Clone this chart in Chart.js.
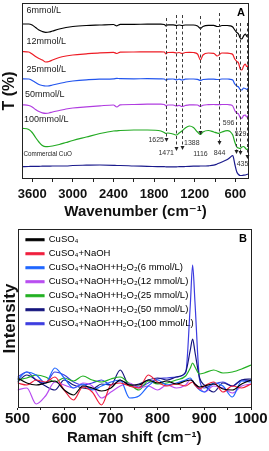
<!DOCTYPE html>
<html><head><meta charset="utf-8">
<script src="https://cdn.jsdelivr.net/npm/chart.js@4.4.1/dist/chart.umd.min.js"></script>
<style>
html,body{margin:0;padding:0;background:#fff;}
#wrap{position:relative;width:269px;height:451px;overflow:hidden;background:#fff;}
canvas{position:absolute;left:0;}
#ca{top:0;} #cb{top:222px;}
</style></head><body>
<div id="wrap"><canvas id="ca" width="269" height="222"></canvas><canvas id="cb" width="269" height="229"></canvas></div>
<script>
const FONT = "'Liberation Sans', Arial, 'DejaVu Sans', sans-serif";

// ---------- Panel A : FTIR ----------
const wavenumbers = [3750,3650,3600,3550,3500,3450,3400,3350,3300,3200,3100,3000,2800,2600,2400,2350,2300,2100,1900,1700,1650,1625,1600,1520,1471,1430,1388,1340,1280,1220,1160,1116,1080,1000,920,870,844,800,720,680,640,610,580,555,529,505,480,455,435,415,400];
const ftir6 = [155,155,154,151.5,149,147.5,146.7,147,148,150,151.5,152.5,153.5,154,154.5,153.2,154.6,154.7,154.8,154.8,154.5,153,154.2,154.2,153.5,154,153.5,154,154,154,153,150.5,152.5,153.7,153.7,152.5,152.5,153.5,153.5,153.2,152,149,146.5,145,141,140,143,145,143,142,146];
const ftir12 = [127.5,127,125,122.5,120.5,119,117,117.5,119,121.5,123,124,125.2,126.2,126.7,125.5,126.8,127,127.2,127.2,127,125,126.5,126.7,126,126.5,125.5,126.5,126.7,126.5,125,119,124,126,125.7,123,124,126,125.8,125.5,124.5,120,117.5,116,110,109,113,115,112.5,113,116];
const ftir25 = [100.2,100,98.5,96.5,94.5,93.5,93,93.2,94,95.5,97,98,99.2,99.8,100.2,100.7,100.3,100.2,100.3,100.2,100,98.8,99.8,100,99.2,99.8,99,99.8,100,100,99.7,98.5,99.5,99.8,99.8,99.5,99.5,100,100,99.7,99,95,93,92,89.5,89,91,90.5,89.7,90.5,92];
const ftir50 = [74.2,73.5,72,69.5,67.5,66.2,65.7,66,67,68.5,70,71,72.2,73.2,74,72,74.2,74.5,74.8,74.8,74.5,73,74,74,73,73.7,72.5,73.5,74.2,74.2,74,72.5,73.7,74.3,74.5,74.3,74.3,74.5,74.5,74.2,73,68.5,66,65,61.5,60.7,63.5,64,62,63,65.5];
const ftir100 = [50.7,49.5,46.5,41.5,37,33.5,32.3,32.5,33,34.5,36.5,38.5,42,45.5,48,48.2,48.5,49,49,48,46.5,45.5,46,45,44,46,48,51,53,51.5,47,44.5,47,48.5,47,46,45.7,47,48.3,47.5,44,37,32,31,30.5,32,32.5,31,29.7,30,31];
const ftirCuO = [12.3,12.5,12.7,12.7,12.7,12.8,12.8,12.9,13,13,13,13.5,13.8,14,13.7,13.5,13.5,13,12.7,12.3,12.3,12.2,12.2,12.2,12.2,12.3,12.3,12.5,12.7,12.8,12.8,13,13,13.2,13.8,15,15.7,17,19.5,21.5,23.5,15,7,4.5,3.5,3.5,3.8,4,4.5,4.8,5];
const ftirLabels = ['6mmol/L','12mmol/L','25mmol/L','50mmol/L','100mmol/L','Commercial CuO'];
const ftirTickValues = [600,900,1200,1500,1800,2100,2400,2700,3000,3300,3600];
const ftirTickLabels = ['600','','1200','','1800','','2400','','3000','','3600'];
const peakPositions = [1625,1471,1388,1116,844,596,529,435];
const peakLabels = ['1625','1471','1388','1116','844','596','529','435'];

// ---------- Panel B : Raman ----------
const ramanShift = [500,520,540,560,580,600,620,640,660,680,700,720,740,760,780,800,820,840,860,870,875,880,890,900,920,940,960,980,1000];
const ramanCuSO4 = [30,25,23,25,27,18,13,22,20,17,20,28,23,23,28,25,27,24,27,28,27,24,21,22,24,19,18,24,28];
const ramanNaOH = [25,23,28,26,31,18,8,21,16,3,23,25,22,20,33,26,22,24,22,25,26,23,19,22,26,16,22,20,24];
const raman6 = [28,36,33,25,40,30,20,24,18,22,26,28,10,12,22,28,23,25,28,30,27,23,18,16,25,22,11,27,26];
const raman12 = [18,20,4,12,26,23,20,25,22,10,16,22,25,20,22,18,23,20,23,28,27,24,20,16,22,20,15,22,24];
const raman25 = [28,30,33,31,26,30,27,32,28,26,29,31,24,18,27,24,25,28,32,40,45,41,34,35,38,35,36,39,43];
const raman50 = [26,33,28,22,18,28,23,20,19,24,23,38,22,24,28,30,28,31,36,58,69,56,30,23,16,25,22,28,29];
const raman100 = [31,36,28,25,36,33,26,23,25,28,23,27,24,21,25,29,30,31,35,103,143,106,28,20,24,26,22,28,27];
const ramanLabels = ['CuSO\u2084','CuSO\u2084+NaOH','CuSO\u2084+NaOH+H\u2082O\u2082(6 mmol/L)','CuSO\u2084+NaOH+H\u2082O\u2082(12 mmol/L)','CuSO\u2084+NaOH+H\u2082O\u2082(25 mmol/L)','CuSO\u2084+NaOH+H\u2082O\u2082(50 mmol/L)','CuSO\u2084+NaOH+H\u2082O\u2082(100 mmol/L)'];
const ramanTickValues = [500,550,600,650,700,750,800,850,900,950,1000];
const ramanTickLabels = ['500','','600','','700','','800','','900','','1000'];

// ---------- shared plugins ----------
const framePlugin = {
  id: 'frame',
  afterDraw(chart) {
    const {ctx, chartArea: a} = chart;
    ctx.save();
    ctx.strokeStyle = '#222';
    ctx.lineWidth = 1;
    ctx.strokeRect(Math.round(a.left) + 0.5, Math.round(a.top) + 0.5, Math.round(a.right - a.left) - 1, Math.round(a.bottom - a.top) - 1);
    ctx.restore();
  }
};

const panelLetter = (letter) => ({
  id: 'letter' + letter,
  afterDraw(chart) {
    const {ctx, chartArea: a} = chart;
    ctx.save();
    ctx.font = 'bold 11px ' + FONT;
    ctx.fillStyle = '#000';
    ctx.textAlign = 'center';
    ctx.textBaseline = 'middle';
    ctx.fillText(letter, a.right - 8, a.top + 9.5);
    ctx.restore();
  }
});

// keep the legend inside the plot area, near its top-left corner
const legendInsidePlugin = {
  id: 'legendInside',
  afterLayout(chart) {
    const lg = chart.legend;
    if (!lg) return;
    const a = chart.chartArea;
    const w = lg.width, h = lg.height;
    lg.left = a.left + 4;
    lg.right = lg.left + w;
    lg.top = a.top + 1.5;
    lg.bottom = lg.top + h;
  }
};

// curve labels for panel A (placed above each curve)
const curveLabelPlugin = {
  id: 'curveLabels',
  afterDatasetsDraw(chart) {
    const {ctx, chartArea: a} = chart;
    const place = [[4.5, 7.3, 9], [4.5, 39, 9], [4.5, 67, 9], [3, 92, 9], [2, 117, 9], [1.5, 151, 6.3]];
    ctx.save();
    ctx.fillStyle = '#1a1a1a';
    ctx.textAlign = 'left';
    ctx.textBaseline = 'middle';
    chart.data.datasets.forEach((ds, i) => {
      const p = place[i];
      ctx.font = p[2] + 'px ' + FONT;
      ctx.fillText(ds.label, a.left + p[0], a.top + p[1]);
    });
    ctx.restore();
  }
};

// dashed peak markers with arrows for panel A
const peakPlugin = {
  id: 'peaks',
  afterDatasetsDraw(chart) {
    const {ctx, scales: {x, y}} = chart;
    // [top, tip] in y-axis units, label offset (dx, dy px) and alignment
    const style = [
      [161, 37, -2.5, -2, 'right'],
      [164, 28, -2.5, 2, 'right'],
      [164, 29, 1.5, -7, 'left'],
      [163, 44, 0, 19, 'center'],
      [166, 34, 0, 8, 'center'],
      [156, 25, -2, -31, 'right'],
      [156, 24, 0, -21, 'center'],
      [156, 20, -5, 5, 'center']
    ];
    ctx.save();
    peakPositions.forEach((wn, i) => {
      const s = style[i];
      const px = Math.round(x.getPixelForValue(wn)) + 0.5;
      const yTop = y.getPixelForValue(s[0]);
      const yTip = y.getPixelForValue(s[1]);
      ctx.strokeStyle = '#3a3a3a';
      ctx.lineWidth = 1;
      ctx.setLineDash([3, 2.5]);
      ctx.beginPath();
      ctx.moveTo(px, yTop);
      ctx.lineTo(px, yTip - 3.5);
      ctx.stroke();
      ctx.setLineDash([]);
      ctx.fillStyle = '#222';
      ctx.beginPath();
      ctx.moveTo(px - 2, yTip - 4);
      ctx.lineTo(px + 2, yTip - 4);
      ctx.lineTo(px, yTip);
      ctx.closePath();
      ctx.fill();
      ctx.font = '7px ' + FONT;
      ctx.fillStyle = '#333';
      ctx.textAlign = s[4];
      ctx.textBaseline = 'middle';
      ctx.fillText(peakLabels[i], px + s[2], yTip + s[3]);
    });
    ctx.restore();
  }
};

// ---------- Chart A ----------
const ftirSeries = [ftir6, ftir12, ftir25, ftir50, ftir100, ftirCuO];
const ftirColors = ['#000000', '#ee1c25', '#2255ee', '#b03ce0', '#22aa22', '#1a1a8c'];

new Chart(document.getElementById('ca'), {
  type: 'line',
  data: {
    datasets: ftirSeries.map((vals, i) => ({
      label: ftirLabels[i],
      data: wavenumbers.map((w, j) => ({x: w, y: vals[j]})),
      borderColor: ftirColors[i],
      borderWidth: 1.2,
      pointRadius: 0,
      cubicInterpolationMode: 'monotone',
      fill: false
    }))
  },
  options: {
    responsive: false,
    devicePixelRatio: 1,
    animation: false,
    layout: {padding: {top: 3, right: 20, left: 0, bottom: 0}},
    plugins: {legend: {display: false}, tooltip: {enabled: false}},
    scales: {
      x: {
        type: 'linear', reverse: true, min: 400, max: 3750,
        afterBuildTicks: (s) => { s.ticks = ftirTickValues.map(v => ({value: v})); },
        afterFit: (s) => { s.height = 43; },
        ticks: {
          autoSkip: false, maxRotation: 0, padding: 5, color: '#111',
          font: {family: FONT, size: 13, weight: 'bold'},
          callback: (v) => ftirTickLabels[ftirTickValues.indexOf(v)]
        },
        grid: {drawOnChartArea: false, drawTicks: true, tickLength: 3, color: '#222'},
        border: {display: false},
        title: {display: true, text: 'Wavenumber (cm\u207B\u00B9)', color: '#111',
          font: {family: FONT, size: 15, weight: 'bold'}, padding: {top: 0, bottom: 1}}
      },
      y: {
        min: 0, max: 176,
        afterFit: (s) => { s.width = 22; },
        ticks: {display: false},
        grid: {display: false},
        border: {display: false},
        title: {display: true, text: 'T (%)', color: '#111',
          font: {family: FONT, size: 16, weight: 'bold'}, padding: {top: 0, bottom: 0}}
      }
    }
  },
  plugins: [framePlugin, curveLabelPlugin, peakPlugin, panelLetter('A')]
});

// ---------- Chart B ----------
const ramanSeries = [ramanCuSO4, ramanNaOH, raman6, raman12, raman25, raman50, raman100];
const ramanColors = ['#000000', '#f01e3c', '#1f66ff', '#b84cf0', '#22b022', '#14147e', '#3c3ce0'];

new Chart(document.getElementById('cb'), {
  type: 'line',
  data: {
    datasets: ramanSeries.map((vals, i) => ({
      label: ramanLabels[i],
      data: ramanShift.map((r, j) => ({x: r, y: vals[j]})),
      borderColor: ramanColors[i],
      backgroundColor: ramanColors[i],
      borderWidth: 1.2,
      pointRadius: 0,
      cubicInterpolationMode: 'monotone',
      fill: false
    }))
  },
  options: {
    responsive: false,
    devicePixelRatio: 1,
    animation: false,
    layout: {padding: {top: 7, right: 18, left: 0, bottom: 0}},
    plugins: {
      tooltip: {enabled: false},
      legend: {
        display: true, position: 'chartArea', align: 'start',
        labels: {
          boxWidth: 18, boxHeight: 2, padding: 4.5, color: '#000',
          font: {family: FONT, size: 9.5}
        }
      }
    },
    scales: {
      x: {
        type: 'linear', min: 500, max: 1000,
        afterBuildTicks: (s) => { s.ticks = ramanTickValues.map(v => ({value: v})); },
        afterFit: (s) => { s.height = 43; },
        ticks: {
          autoSkip: false, maxRotation: 0, padding: 0, color: '#111',
          font: {family: FONT, size: 15, weight: 'bold'},
          callback: (v) => ramanTickLabels[ramanTickValues.indexOf(v)]
        },
        grid: {drawOnChartArea: false, drawTicks: true, tickLength: 2, color: '#222'},
        border: {display: false},
        title: {display: true, text: 'Raman shift (cm\u207B\u00B9)', color: '#111',
          font: {family: FONT, size: 15, weight: 'bold'}, padding: {top: 0, bottom: 4}}
      },
      y: {
        min: 0, max: 179,
        afterFit: (s) => { s.width = 17.5; },
        ticks: {display: false},
        grid: {display: false},
        border: {display: false},
        title: {display: true, text: 'Intensity', color: '#111',
          font: {family: FONT, size: 17, weight: 'bold'}, padding: {top: 0, bottom: 0}}
      }
    }
  },
  plugins: [legendInsidePlugin, framePlugin, panelLetter('B')]
});
</script>
</body></html>
